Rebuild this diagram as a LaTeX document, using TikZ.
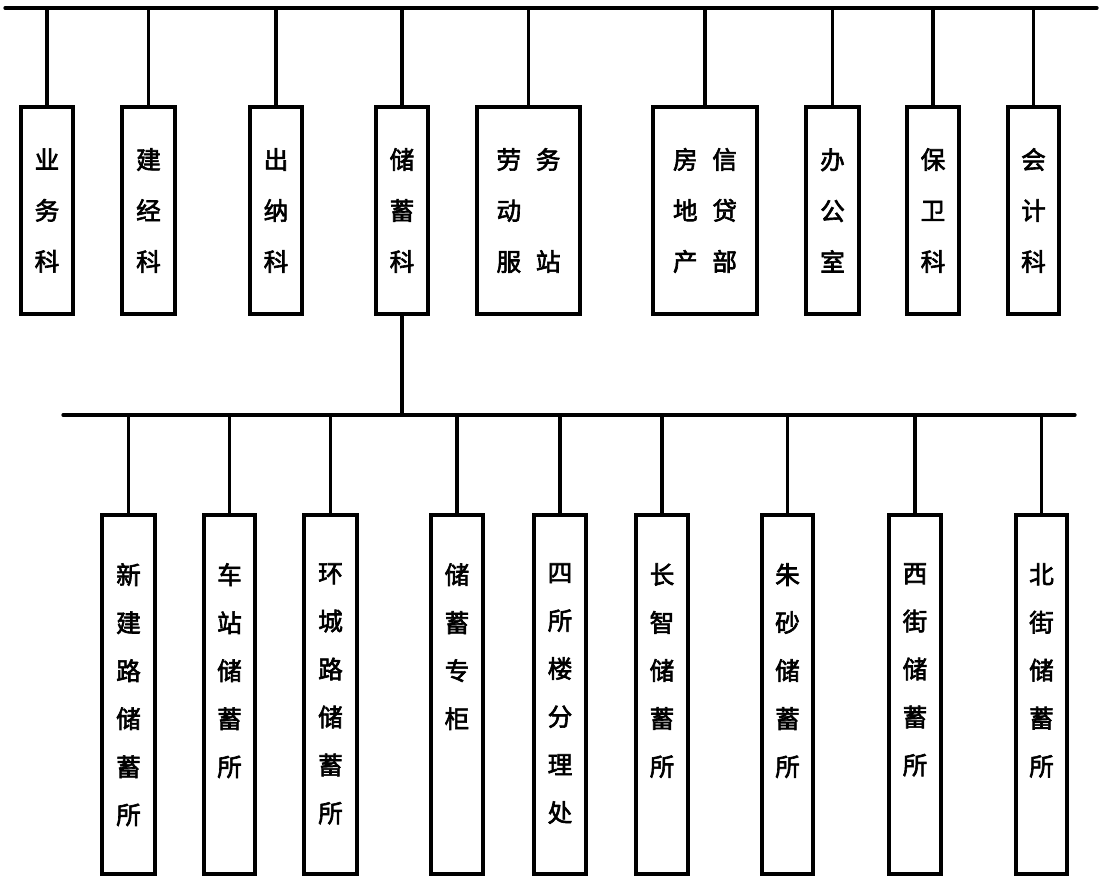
\documentclass[tikz,border=0pt]{standalone}
\usepackage{fontspec}
\newfontfamily\cjk[FakeBold=2.5]{Noto Sans CJK SC}
\begin{document}
\begin{tikzpicture}[x=0.75pt,y=-0.75pt,
  wire/.style={line width=2.5pt, line cap=round},
  tbox/.style={draw, line width=2.6pt, inner sep=0pt, minimum height=155.25pt,
     align=center, font=\cjk\fontsize{18.5}{38.25}\selectfont},
  bbox/.style={draw, line width=2.6pt, inner sep=0pt, minimum height=269.25pt},
  lbl/.style={anchor=north, inner sep=0pt, align=center, font=\cjk\fontsize{18.5}{36}\selectfont}]
\useasboundingbox (0,0) rectangle (1106,878);
% top level boxes (top 107, bottom 314, centre y 210.5)
\node[tbox, minimum width=39pt] (t1) at (47,210.5) {业\\务\\科};
\node[tbox, minimum width=39.75pt] (t2) at (148.5,210.5) {建\\经\\科};
\node[tbox, minimum width=39pt] (t3) at (276,210.5) {出\\纳\\科};
\node[tbox, minimum width=39pt] (t4) at (402,210.5) {储\\蓄\\科};
\node[tbox, minimum width=77.25pt] (t5) at (528.5,210.5) {劳\hspace{11pt}务\\动\hspace{11pt}\phantom{务}\\服\hspace{11pt}站};
\node[tbox, minimum width=78pt] (t6) at (705,210.5) {房\hspace{11pt}信\\地\hspace{11pt}贷\\产\hspace{11pt}部};
\node[tbox, minimum width=39.75pt] (t7) at (832.5,210.5) {办\\公\\室};
\node[tbox, minimum width=39pt] (t8) at (933,210.5) {保\\卫\\科};
\node[tbox, minimum width=38.25pt] (t9) at (1033.5,210.5) {会\\计\\科};
% top bus
\coordinate (tbL) at (5,8);
\coordinate (tbR) at (1097,8);
\draw[wire] (tbL) -- (tbR);
\foreach \n in {t1,t2,t3,t4,t5,t6,t7,t8,t9}
  \draw[wire] (\n.north) -- (\n.north |- tbL);
% second bus
\coordinate (bbL) at (63,415);
\coordinate (bbR) at (1075,415);
\draw[wire] (bbL) -- (bbR);
\draw[wire] (t4.south) -- (t4.south |- bbL);
% bottom boxes (top 515, bottom 874, centre 694.5)
\node[bbox, minimum width=39.75pt] (b1) at (128.5,694.5) {};
\node[bbox, minimum width=38.25pt] (b2) at (229.5,694.5) {};
\node[bbox, minimum width=39.75pt] (b3) at (330.5,694.5) {};
\node[bbox, minimum width=39pt] (b4) at (457,694.5) {};
\node[bbox, minimum width=39pt] (b5) at (560,694.5) {};
\node[bbox, minimum width=39pt] (b6) at (662,694.5) {};
\node[bbox, minimum width=38.25pt] (b7) at (787.5,694.5) {};
\node[bbox, minimum width=39pt] (b8) at (915,694.5) {};
\node[bbox, minimum width=38.25pt] (b9) at (1041.5,694.5) {};
\foreach \n in {b1,b2,b3,b4,b5,b6,b7,b8,b9}
  \draw[wire] (\n.north) -- (\n.north |- bbL);
% labels of bottom boxes
\node[lbl] (l1) at (128.5,563) {新\\建\\路\\储\\蓄\\所};
\node[lbl] (l2) at (229.5,563) {车\\站\\储\\蓄\\所};
\node[lbl] (l3) at (330.5,563) {环\\城\\路\\储\\蓄\\所};
\node[lbl] (l4) at (457,563) {储\\蓄\\专\\柜};
\node[lbl] (l5) at (560,563) {四\\所\\楼\\分\\理\\处};
\node[lbl] (l6) at (662,563) {长\\智\\储\\蓄\\所};
\node[lbl] (l7) at (787.5,563) {朱\\砂\\储\\蓄\\所};
\node[lbl] (l8) at (915,563) {西\\街\\储\\蓄\\所};
\node[lbl] (l9) at (1041.5,563) {北\\街\\储\\蓄\\所};
\end{tikzpicture}
\end{document}
